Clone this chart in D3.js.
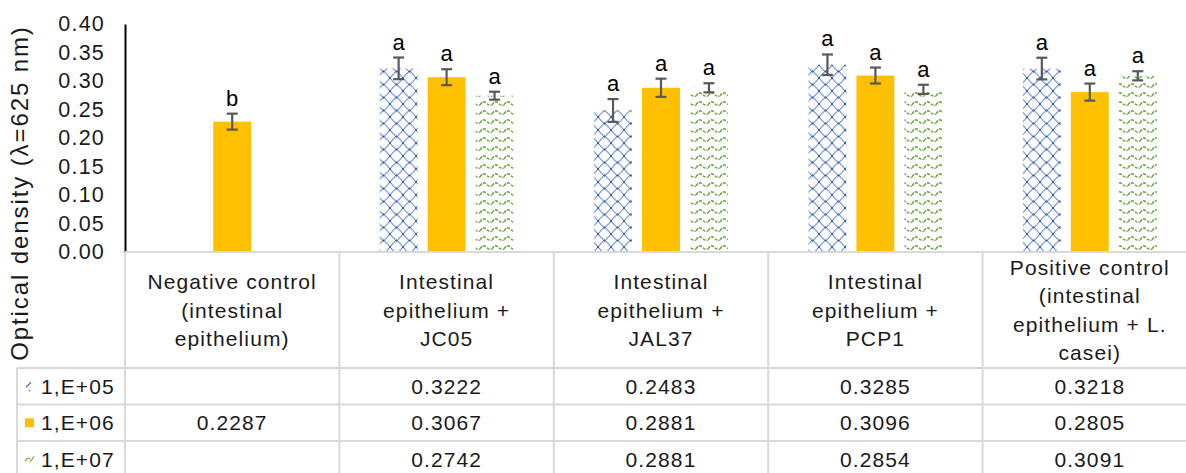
<!DOCTYPE html>
<html>
<head>
<meta charset="utf-8">
<script src="https://cdnjs.cloudflare.com/ajax/libs/d3/7.8.5/d3.min.js"></script>
<style>
html,body{margin:0;padding:0;background:#fff;}
svg{display:block;font-family:"Liberation Sans",Arial,sans-serif;}
</style>
</head>
<body>
<svg id="chart" width="1186" height="473"></svg>
<script>
// ---------- data ----------
const categories = [
  ["Negative control", "(intestinal", "epithelium)"],
  ["Intestinal", "epithelium +", "JC05"],
  ["Intestinal", "epithelium +", "JAL37"],
  ["Intestinal", "epithelium +", "PCP1"],
  ["Positive control", "(intestinal", "epithelium + L.", "casei)"]
];
const seriesNames = ["1,E+05", "1,E+06", "1,E+07"];
const values05 = [null, 0.3222, 0.2483, 0.3285, 0.3218];
const values06 = [0.2287, 0.3067, 0.2881, 0.3096, 0.2805];
const values07 = [null, 0.2742, 0.2881, 0.2854, 0.3091];
const err05 = [null, 0.019, 0.020, 0.018, 0.019];
const err06 = [0.014, 0.014, 0.016, 0.014, 0.015];
const err07 = [null, 0.007, 0.008, 0.008, 0.008];
const letters05 = ["", "a", "a", "a", "a"];
const letters06 = ["b", "a", "a", "a", "a"];
const letters07 = ["", "a", "a", "a", "a"];
const yTicks = [0, 0.05, 0.10, 0.15, 0.20, 0.25, 0.30, 0.35, 0.40];
const yTitle = "Optical density (λ=625 nm)";

const seriesValues = [values05, values06, values07];
const seriesErr = [err05, err06, err07];
const seriesLetters = [letters05, letters06, letters07];

// ---------- layout ----------
const svg = d3.select("#chart");
const plotLeft = 125, plotRight = 1197, yTop = 24, yBottom = 252;
const headerBottom = 368, rowH = 36.5;
const legendLeft = 17;
const gridColor = "#d9d9d9";
const textColor = "#1a1a1a";

const x0 = d3.scaleBand().domain(d3.range(categories.length)).range([plotLeft, plotRight]).padding(0);
const x1 = d3.scaleBand().domain(d3.range(seriesNames.length)).range([0, x0.bandwidth()]).paddingInner(0.21).paddingOuter(0.84);
const y = d3.scaleLinear().domain([0, 0.4]).range([yBottom, yTop]);

// ---------- patterns ----------
const defs = svg.append("defs");
const pBlue = defs.append("pattern").attr("id", "pBlue").attr("patternUnits", "userSpaceOnUse")
  .attr("width", 13).attr("height", 13).attr("x", 0).attr("y", 0);
pBlue.append("rect").attr("width", 13).attr("height", 13).attr("fill", "#fff");
pBlue.append("path").attr("d", "M0,0 Q5,6.5 6.5,6.5 Q8,6.5 13,13 M13,0 Q8,6.5 6.5,6.5 Q5,6.5 0,13")
  .attr("fill", "none").attr("stroke", "#4472C4").attr("stroke-width", 1);
pBlue.append("path").attr("d", "M0,0 Q6.5,5 6.5,6.5 Q6.5,8 13,13 M13,0 Q6.5,5 6.5,6.5 Q6.5,8 0,13")
  .attr("fill", "none").attr("stroke", "#4472C4").attr("stroke-width", 0.5).attr("opacity", 0.5);
pBlue.append("circle").attr("cx", 6.5).attr("cy", 6.5).attr("r", 1).attr("fill", "#2f5597");
pBlue.append("circle").attr("cx", 0).attr("cy", 0).attr("r", 1).attr("fill", "#2f5597");
pBlue.append("circle").attr("cx", 13).attr("cy", 0).attr("r", 1).attr("fill", "#2f5597");
pBlue.append("circle").attr("cx", 0).attr("cy", 13).attr("r", 1).attr("fill", "#2f5597");
pBlue.append("circle").attr("cx", 13).attr("cy", 13).attr("r", 1).attr("fill", "#2f5597");

const pGreen = defs.append("pattern").attr("id", "pGreen").attr("patternUnits", "userSpaceOnUse")
  .attr("width", 12).attr("height", 9).attr("x", 0).attr("y", 0);
pGreen.append("rect").attr("width", 12).attr("height", 9).attr("fill", "#fff");
pGreen.append("path").attr("d", "M0,6 Q3,1 6,4 Q9,7 12,6")
  .attr("fill", "none").attr("stroke", "#70AD47").attr("stroke-width", 1.6).attr("stroke-dasharray", "3,1.2");

const fills = ["url(#pBlue)", "#FFC000", "url(#pGreen)"];

// ---------- y axis ----------
const yAxis = d3.axisLeft(y).tickValues(yTicks).tickFormat(d3.format(".2f")).tickSize(0).tickPadding(20);
const gy = svg.append("g").attr("transform", `translate(${plotLeft},0)`).call(yAxis);
gy.select(".domain").attr("stroke", "#000").attr("stroke-width", 2);
gy.selectAll("text").attr("font-size", 21.5).attr("fill", textColor).attr("letter-spacing", 1.2)
  .attr("font-family", "Liberation Sans, Arial, sans-serif");

svg.append("text")
  .attr("transform", `translate(28,${(yTop + 362) / 2}) rotate(-90)`)
  .attr("text-anchor", "middle").attr("font-size", 24).attr("letter-spacing", 1.9)
  .attr("fill", textColor).text(yTitle);

// ---------- bars ----------
const barData = [];
seriesValues.forEach((vals, s) => vals.forEach((v, c) => {
  if (v != null) barData.push({s, c, v, e: seriesErr[s][c], l: seriesLetters[s][c]});
}));

const gBars = svg.append("g");
gBars.selectAll("rect").data(barData).enter().append("rect")
  .attr("x", d => x0(d.c) + x1(d.s))
  .attr("y", d => y(d.v))
  .attr("width", x1.bandwidth())
  .attr("height", d => y(0) - y(d.v))
  .attr("fill", d => fills[d.s]);

// error bars
const gErr = svg.append("g").attr("stroke", "#595959").attr("stroke-width", 2.2);
barData.forEach(d => {
  const cx = x0(d.c) + x1(d.s) + x1.bandwidth() / 2;
  const t = y(d.v + d.e), b = y(d.v - d.e);
  gErr.append("line").attr("x1", cx).attr("x2", cx).attr("y1", t).attr("y2", b);
  gErr.append("line").attr("x1", cx - 5.5).attr("x2", cx + 5.5).attr("y1", t).attr("y2", t);
  gErr.append("line").attr("x1", cx - 5.5).attr("x2", cx + 5.5).attr("y1", b).attr("y2", b);
});

// letters
svg.append("g").selectAll("text").data(barData).enter().append("text")
  .attr("x", d => x0(d.c) + x1(d.s) + x1.bandwidth() / 2)
  .attr("y", d => y(d.v + d.e) - 8)
  .attr("text-anchor", "middle").attr("font-size", 22).attr("fill", "#000")
  .text(d => d.l);

// ---------- data table ----------
const gT = svg.append("g").attr("stroke", gridColor).attr("stroke-width", 2);
const tableBottom = headerBottom + rowH * 3;
gT.append("line").attr("x1", plotLeft).attr("x2", 1186).attr("y1", yBottom).attr("y2", yBottom);
[0, 1, 2].forEach(i => {
  gT.append("line").attr("x1", legendLeft).attr("x2", 1186)
    .attr("y1", headerBottom + rowH * i).attr("y2", headerBottom + rowH * i);
});
d3.range(categories.length).forEach(c => {
  gT.append("line").attr("x1", x0(c)).attr("x2", x0(c)).attr("y1", yBottom).attr("y2", tableBottom);
});
gT.append("line").attr("x1", legendLeft).attr("x2", legendLeft).attr("y1", headerBottom).attr("y2", tableBottom);

// header texts
const headerMid = (yBottom + headerBottom) / 2;
const lineH = 28.3;
categories.forEach((lines, c) => {
  const cx = x0(c) + x0.bandwidth() / 2;
  const t = svg.append("text").attr("text-anchor", "middle").attr("font-size", 21)
    .attr("letter-spacing", 1.1).attr("fill", textColor);
  lines.forEach((ln, i) => {
    t.append("tspan").attr("x", cx)
      .attr("y", headerMid + (i - (lines.length - 1) / 2) * lineH + 7.5).text(ln);
  });
});

// value rows
const fmt = d3.format(".4f");
seriesNames.forEach((name, s) => {
  const cy = headerBottom + rowH * s + rowH / 2;
  if (s === 1) {
    svg.append("rect").attr("x", 25).attr("y", cy - 4.5).attr("width", 9).attr("height", 9).attr("fill", fills[s]);
  } else if (s === 0) {
    svg.append("path").attr("d", `M31,${cy - 4} Q27,${cy} 26,${cy + 1} M29,${cy + 4} l1,1`)
      .attr("fill", "none").attr("stroke", "#4472C4").attr("stroke-width", 1.2);
  } else {
    svg.append("path").attr("d", `M25,${cy + 2} Q28,${cy - 3} 30,${cy} M30,${cy + 3} Q32,${cy} 34,${cy - 3}`)
      .attr("fill", "none").attr("stroke", "#70AD47").attr("stroke-width", 1.2);
  }
  svg.append("text").attr("x", 41).attr("y", cy + 7.5).attr("font-size", 21)
    .attr("letter-spacing", 1.1).attr("fill", textColor).text(name);
  seriesValues[s].forEach((v, c) => {
    if (v == null) return;
    svg.append("text").attr("x", x0(c) + x0.bandwidth() / 2).attr("y", cy + 7.5)
      .attr("text-anchor", "middle").attr("font-size", 21).attr("letter-spacing", 1.1)
      .attr("fill", textColor).text(fmt(v));
  });
});
</script>
</body>
</html>
